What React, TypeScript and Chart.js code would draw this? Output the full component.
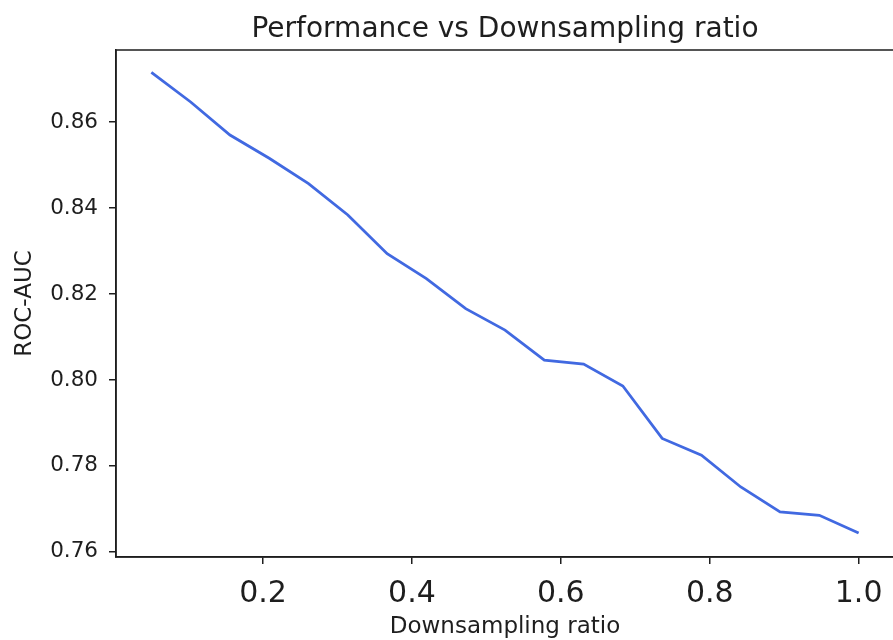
import React, { useEffect, useRef } from "react";
import { Chart, registerables } from "chart.js";

Chart.register(...registerables);

// Downsampling ratios (19 evenly spaced steps from 0.05 to 1.0)
const ratios: number[] = [
  0.05, 0.1028, 0.1556, 0.2083, 0.2611, 0.3139, 0.3667, 0.4194, 0.4722, 0.525,
  0.5778, 0.6306, 0.6833, 0.7361, 0.7889, 0.8417, 0.8944, 0.9472, 1.0,
];

// ROC-AUC measured at each ratio
const rocAuc: number[] = [
  0.8716, 0.8647, 0.857, 0.8516, 0.8457, 0.8384, 0.8294, 0.8236, 0.8166, 0.8116,
  0.8046, 0.8037, 0.7986, 0.7864, 0.7825, 0.7751, 0.7693, 0.7685, 0.7644,
];

const xTicks: number[] = [0.2, 0.4, 0.6, 0.8, 1.0];
const yTicks: number[] = [0.76, 0.78, 0.8, 0.82, 0.84, 0.86];

const FONT = "'DejaVu Sans', sans-serif";
const INK = "#1e1e1e";

// Draws the top and right spines so the axes form a closed box
const framePlugin = {
  id: "frame",
  afterDraw(chart: any) {
    const { ctx, chartArea } = chart;
    ctx.save();
    ctx.strokeStyle = INK;
    ctx.lineWidth = 1.5;
    ctx.strokeRect(
      chartArea.left,
      chartArea.top,
      chartArea.right - chartArea.left,
      chartArea.bottom - chartArea.top
    );
    ctx.restore();
  },
};

export default function App() {
  const canvasRef = useRef<HTMLCanvasElement | null>(null);

  useEffect(() => {
    const canvas = canvasRef.current;
    if (!canvas) return;
    const points = ratios.map((r, i) => ({ x: r, y: rocAuc[i] }));

    const chart = new Chart(canvas, {
      type: "line",
      data: {
        datasets: [
          {
            data: points,
            borderColor: "#4169E1",
            borderWidth: 2.8,
            pointRadius: 0,
            fill: false,
            tension: 0,
          },
        ],
      },
      plugins: [framePlugin],
      options: {
        animation: false,
        responsive: false,
        devicePixelRatio: 1,
        layout: { padding: { left: 0, right: 6, top: 0, bottom: 0 } },
        plugins: {
          legend: { display: false },
          tooltip: { enabled: false },
          title: {
            display: true,
            fullSize: false,
            text: "Performance vs Downsampling ratio",
            color: INK,
            font: { family: FONT, size: 28, weight: "normal", lineHeight: 1.2 },
            padding: { top: 13, bottom: 3.4 },
          },
        },
        scales: {
          x: {
            type: "linear",
            min: 0.0025,
            max: 1.0475,
            afterBuildTicks: (scale: any) => {
              scale.ticks = xTicks.map((v) => ({ value: v }));
            },
            afterFit: (scale: any) => {
              scale.height = 83;
            },
            ticks: {
              autoSkip: false,
              maxRotation: 0,
              padding: 12,
              color: INK,
              font: { family: FONT, size: 30 },
              callback: (v: any) => Number(v).toFixed(1),
            },
            grid: {
              drawOnChartArea: false,
              drawTicks: true,
              tickLength: 7,
              color: INK,
              lineWidth: 1.5,
            },
            border: { display: true, color: INK, width: 1.5 },
            title: {
              display: true,
              text: "Downsampling ratio",
              color: INK,
              font: { family: FONT, size: 23, lineHeight: 1.1 },
              padding: { top: 0, bottom: 0 },
            },
          },
          y: {
            type: "linear",
            min: 0.7588,
            max: 0.8768,
            afterBuildTicks: (scale: any) => {
              scale.ticks = yTicks.map((v) => ({ value: v }));
            },
            afterFit: (scale: any) => {
              scale.width = 116;
            },
            ticks: {
              autoSkip: false,
              padding: 11,
              color: INK,
              font: { family: FONT, size: 21.5 },
              callback: (v: any) => Number(v).toFixed(2),
            },
            grid: {
              drawOnChartArea: false,
              drawTicks: true,
              tickLength: 7,
              color: INK,
              lineWidth: 1.5,
            },
            border: { display: true, color: INK, width: 1.5 },
            title: {
              display: true,
              text: "ROC-AUC",
              color: INK,
              font: { family: FONT, size: 23, lineHeight: 1.1 },
              padding: { top: 12, bottom: 0 },
            },
          },
        },
      } as any,
    });

    return () => chart.destroy();
  }, []);

  return (
    <div
      style={{
        position: "absolute",
        left: 0,
        top: 0,
        width: 893,
        height: 640,
        overflow: "hidden",
        background: "#fff",
      }}
    >
      <canvas
        ref={canvasRef}
        width={900}
        height={640}
        style={{ width: 900, height: 640, display: "block" }}
      />
    </div>
  );
}
